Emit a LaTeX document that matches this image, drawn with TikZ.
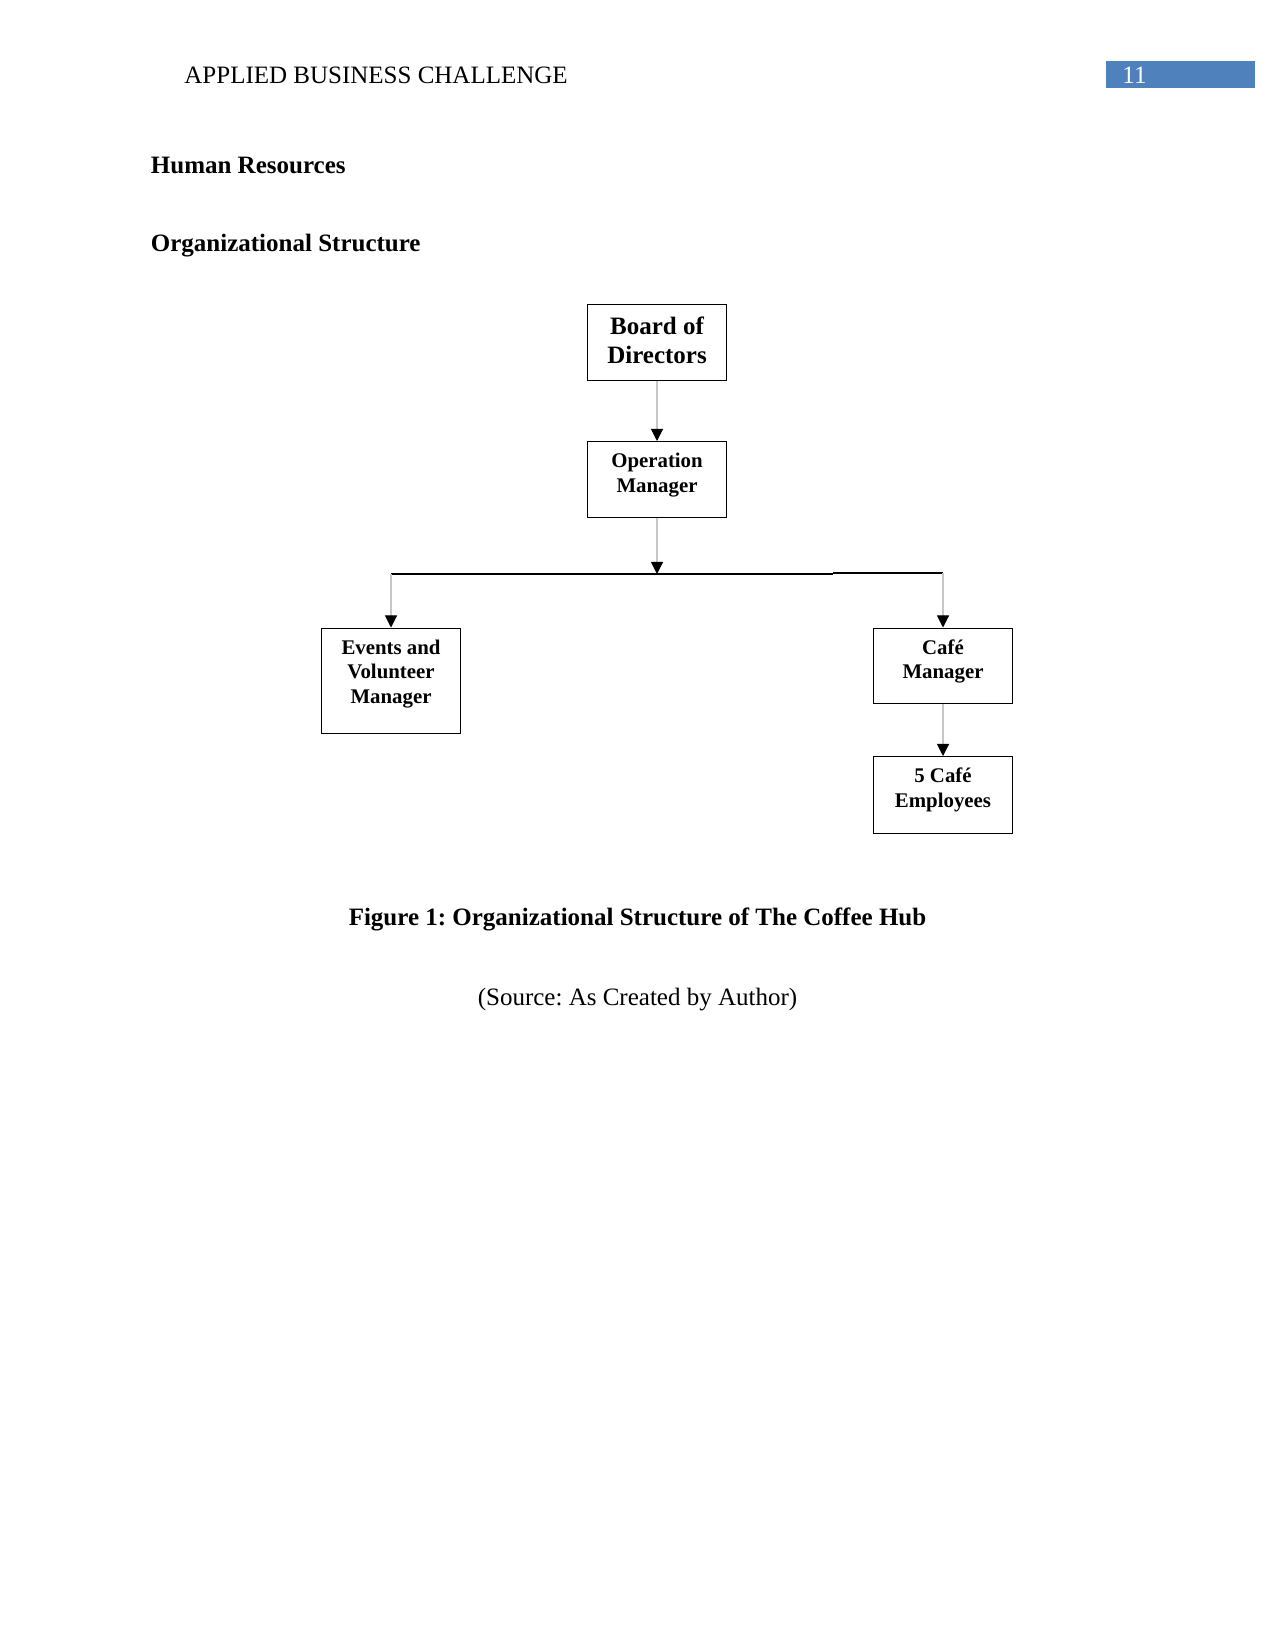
\documentclass[tikz,border=0pt]{standalone}
\usepackage{fontspec}
\setmainfont{Liberation Serif}
\usetikzlibrary{arrows.meta}
\frenchspacing

\definecolor{hdrblue}{HTML}{4F81BD}
\newcommand{\cell}[2]{\parbox[c][#1][t]{66.7pt}{\centering\vspace{4.4pt}\strut #2}}

\begin{document}
\begin{tikzpicture}[x={(0.48pt,0)}, y={(0,-0.48pt)},
    unitbox/.style={draw, line width=0.6pt, inner sep=0pt, anchor=north,
        font=\bfseries\fontsize{10}{11.7}\selectfont},
    link/.style={draw=black!22, line width=0.5pt,
        -{Triangle[width=5.8pt, length=5.8pt, color=black]}},
    plain/.style={anchor=base west, inner sep=0pt, font=\fontsize{12}{14}\selectfont}]
    \useasboundingbox (0,0) rectangle (1275,1651);

    % running head
    \node[plain] (runhead) at (184,84) {APPLIED BUSINESS CHALLENGE};
    \fill[hdrblue] (1105.5,61) rectangle (1255,88.4);
    \node[plain, text=white] (pageno) at (1122,84) {11};

    \node[plain, font=\bfseries\fontsize{12}{14}\selectfont] (hr) at (150.5,173.5) {Human Resources};
    \node[plain, font=\bfseries\fontsize{12}{14}\selectfont] (orgs) at (150.5,251.5) {Organizational Structure};

    % chart
    \node[unitbox, font=\bfseries\fontsize{12}{14}\selectfont] (board) at (657,304)
        {\cell{36.5pt}{Board of\\Directors}};
    \node[unitbox] (oper) at (657,441) {\cell{36.5pt}{Operation\\Manager}};
    \node[unitbox] (events) at (391,627.5) {\cell{50.6pt}{Events and\\Volunteer\\Manager}};
    \node[unitbox] (cafe) at (943,627.5) {\cell{36.2pt}{Café\\Manager}};
    \node[unitbox] (staff) at (943,756) {\cell{37pt}{5 Café\\Employees}};

    \coordinate (barL) at (391,574);
    \coordinate (barM) at (657,574);
    \coordinate (barS) at (833,574);
    \coordinate (barT) at (833,573);
    \coordinate (barR) at (943,573);

    \draw[line width=0.6pt] (barL) -- (barS);
    \draw[line width=0.6pt] (barT) -- (barR);

    \draw[link] (board) -- (oper);
    \draw[link] (oper) -- (barM);
    \draw[link] (barL) -- (events.north);
    \draw[link] (barR) -- (cafe.north);
    \draw[link] (cafe) -- (staff);

    % caption
    \node[anchor=base, inner sep=0pt, font=\bfseries\fontsize{12}{14}\selectfont] (caption) at (637.5,925.5)
        {Figure 1: Organizational Structure of The Coffee Hub};
    \node[anchor=base, inner sep=0pt, font=\fontsize{12}{14}\selectfont] (source) at (637.5,1005.5)
        {(Source: As Created by Author)};
\end{tikzpicture}
\end{document}
